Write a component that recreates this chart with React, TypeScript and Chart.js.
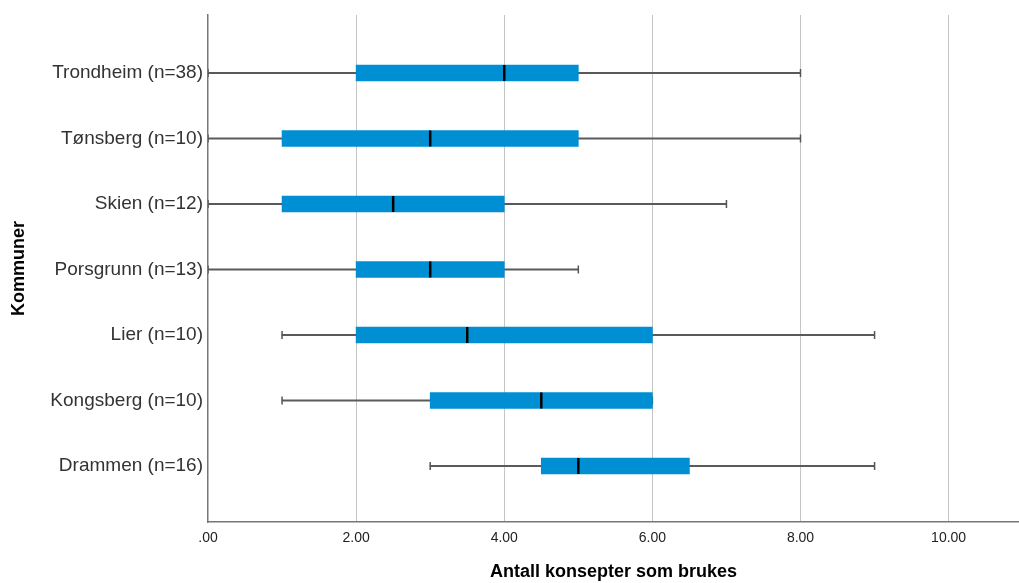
import React, { useEffect, useRef } from 'react';
import { Chart, registerables } from 'chart.js';

Chart.register(...registerables);

const categories = [
  'Trondheim (n=38)',
  'Tønsberg (n=10)',
  'Skien (n=12)',
  'Porsgrunn (n=13)',
  'Lier (n=10)',
  'Kongsberg (n=10)',
  'Drammen (n=16)',
];
const minValues = [0, 0, 0, 0, 1, 1, 3];
const q1Values = [2, 1, 1, 2, 2, 3, 4.5];
const medianValues = [4, 3, 2.5, 3, 3.5, 4.5, 5];
const q3Values = [5, 5, 4, 4, 6, 6, 6.5];
const maxValues = [8, 8, 7, 5, 9, 6, 9];
const xTickValues = [0, 2, 4, 6, 8, 10];
const xTitle = 'Antall konsepter som brukes';
const yTitle = 'Kommuner';

const FONT = "'Liberation Sans', Arial, sans-serif";

export default function App() {
  const ref = useRef<HTMLCanvasElement | null>(null);

  useEffect(() => {
    if (!ref.current) return;
    const n = categories.length;
    const rowPos = (i: number) => n - i;

    const boxData = categories.map((_, i) => ({ x: [q1Values[i], q3Values[i]], y: rowPos(i) }));
    const whiskerData = categories.map((_, i) => ({ x: [minValues[i], maxValues[i]], y: rowPos(i) }));
    const medianData = categories.map((_, i) => ({ x: medianValues[i], y: rowPos(i) }));
    const capData: { x: number; y: number }[] = [];
    categories.forEach((_, i) => {
      capData.push({ x: minValues[i], y: rowPos(i) });
      capData.push({ x: maxValues[i], y: rowPos(i) });
    });

    const chart = new Chart(ref.current, {
      type: 'bar',
      data: {
        datasets: [
          {
            type: 'scatter',
            data: medianData,
            pointStyle: 'line',
            rotation: 90,
            radius: 8,
            borderColor: '#000000',
            borderWidth: 2.5,
            order: 0,
          } as any,
          {
            type: 'bar',
            data: boxData,
            backgroundColor: 'rgb(0,143,211)',
            borderWidth: 0,
            barThickness: 16,
            maxBarThickness: 16,
            grouped: false,
            order: 1,
          } as any,
          {
            type: 'scatter',
            data: capData,
            pointStyle: 'line',
            rotation: 90,
            radius: 4,
            borderColor: '#555555',
            borderWidth: 1.5,
            order: 2,
          } as any,
          {
            type: 'bar',
            data: whiskerData,
            backgroundColor: '#5a5a5a',
            borderWidth: 0,
            barThickness: 1.5,
            maxBarThickness: 1.5,
            grouped: false,
            order: 3,
          } as any,
        ],
      },
      options: {
        indexAxis: 'y',
        responsive: false,
        animation: false,
        layout: { autoPadding: false, padding: { top: 15, right: 0, left: 0, bottom: 0 } },
        plugins: { legend: { display: false }, tooltip: { enabled: false } },
        scales: {
          x: {
            type: 'linear',
            position: 'bottom',
            min: 0,
            max: 10.95,
            offset: false,
            afterBuildTicks: (s: any) => {
              s.ticks = xTickValues.map((v) => ({ value: v }));
            },
            afterFit: (s: any) => {
              s.height = 61;
              s.paddingLeft = 0;
              s.paddingRight = 0;
            },
            ticks: {
              padding: 8,
              color: '#222',
              font: { family: FONT, size: 14 },
              callback: (v: any) => (Number(v) === 0 ? '.00' : Number(v).toFixed(2)),
            },
            grid: {
              drawTicks: false,
              offset: false,
              color: (ctx: any) => (ctx.tick && ctx.tick.value === 0 ? 'rgba(0,0,0,0)' : '#c4c4c4'),
              lineWidth: 1,
            },
            border: { display: true, color: '#777', width: 1.5 },
            title: {
              display: true,
              text: xTitle,
              color: '#000',
              font: { family: FONT, size: 18, weight: 'bold' },
              padding: { top: 0, bottom: 0 },
            },
          },
          y: {
            type: 'linear',
            position: 'left',
            min: 0.145,
            max: 7.885,
            offset: false,
            afterBuildTicks: (s: any) => {
              s.ticks = categories.map((_, i) => ({ value: rowPos(i) }));
            },
            afterFit: (s: any) => {
              s.width = 208;
              s.paddingTop = 0;
              s.paddingBottom = 0;
            },
            ticks: {
              autoSkip: false,
              padding: 5,
              color: '#333',
              font: { family: FONT, size: 19 },
              callback: (v: any) => categories[n - Number(v)] ?? '',
            },
            grid: { display: false, drawTicks: false, offset: false },
            border: { display: true, color: '#777', width: 1.5 },
            title: {
              display: true,
              text: yTitle,
              color: '#000',
              font: { family: FONT, size: 18, weight: 'bold' },
              padding: { top: 8, bottom: 0 },
            },
          },
        },
      } as any,
    });
    return () => chart.destroy();
  }, []);

  return (
    <div style={{ position: 'absolute', left: 0, top: 0, width: 1019, height: 583, background: '#fff' }}>
      <canvas ref={ref} width={1019} height={583} style={{ display: 'block' }} />
    </div>
  );
}
